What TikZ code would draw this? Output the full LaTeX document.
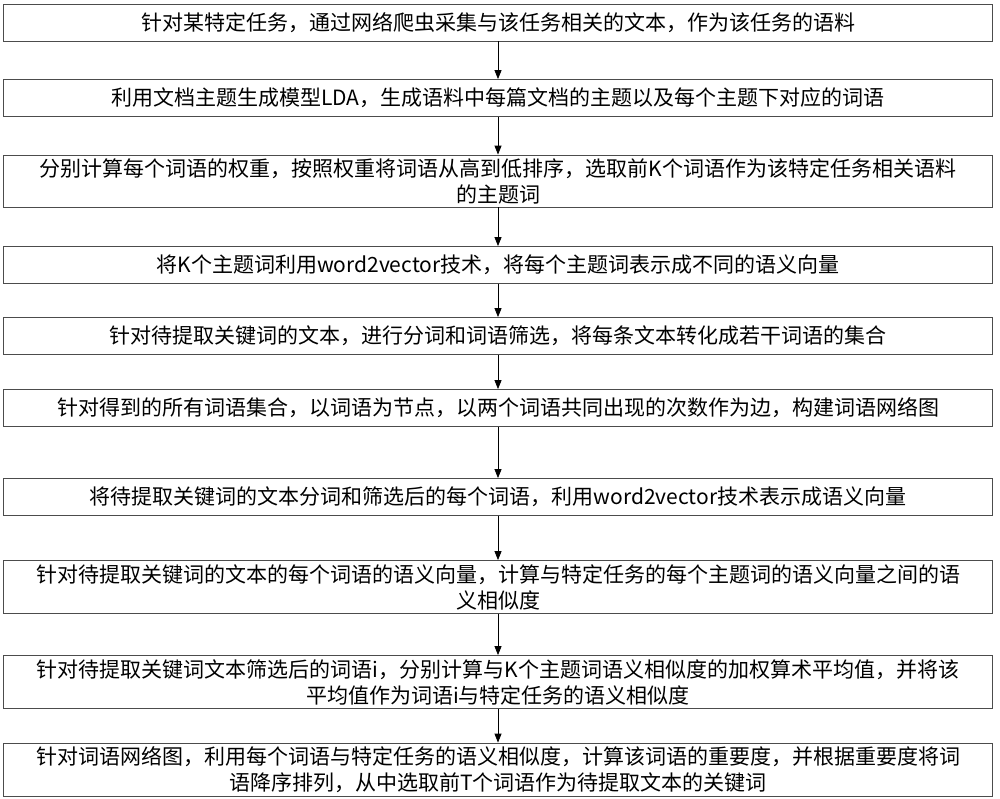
\documentclass[tikz,border=0pt]{standalone}
\usepackage{fontspec}
\setmainfont{Noto Sans CJK SC}
\usetikzlibrary{arrows.meta}
\begin{document}
\begin{tikzpicture}[x=1pt,y=-1pt,
  stepbox/.style={draw=black!70,line width=0.8pt,minimum width=989pt,text width=985pt,align=center,inner sep=0pt,font=\fontsize{21}{26}\selectfont},
  arr/.style={-{Triangle[length=9pt,width=7pt]},line width=0.8pt}]
\useasboundingbox (0,0) rectangle (1000,798);
\node[stepbox,minimum height=37pt] (b1) at (498,22.5) {针对某特定任务，通过网络爬虫采集与该任务相关的文本，作为该任务的语料};
\node[stepbox,minimum height=37pt] (b2) at (498,98) {利用文档主题生成模型LDA，生成语料中每篇文档的主题以及每个主题下对应的词语};
\node[stepbox,minimum height=52pt] (b3) at (498,181) {分别计算每个词语的权重，按照权重将词语从高到低排序，选取前K个词语作为该特定任务相关语料\\的主题词};
\node[stepbox,minimum height=37pt] (b4) at (498,265) {将K个主题词利用word2vector技术，将每个主题词表示成不同的语义向量};
\node[stepbox,minimum height=37pt] (b5) at (498,336) {针对待提取关键词的文本，进行分词和词语筛选，将每条文本转化成若干词语的集合};
\node[stepbox,minimum height=37pt] (b6) at (498,408) {针对得到的所有词语集合，以词语为节点，以两个词语共同出现的次数作为边，构建词语网络图};
\node[stepbox,minimum height=37pt] (b7) at (498,497) {将待提取关键词的文本分词和筛选后的每个词语，利用word2vector技术表示成语义向量};
\node[stepbox,minimum height=53pt] (b8) at (498,587) {针对待提取关键词的文本的每个词语的语义向量，计算与特定任务的每个主题词的语义向量之间的语\\义相似度};
\node[stepbox,minimum height=53pt] (b9) at (498,682) {针对待提取关键词文本筛选后的词语i，分别计算与K个主题词语义相似度的加权算术平均值，并将该\\平均值作为词语i与特定任务的语义相似度};
\node[stepbox,minimum height=53pt] (b10) at (498,769.5) {针对词语网络图，利用每个词语与特定任务的语义相似度，计算该词语的重要度，并根据重要度将词\\语降序排列，从中选取前T个词语作为待提取文本的关键词};
\foreach \a/\b in {b1/b2,b2/b3,b3/b4,b4/b5,b5/b6,b6/b7,b7/b8,b8/b9,b9/b10}
  \draw[arr] (\a.south) -- (\b.north);
\end{tikzpicture}
\end{document}
